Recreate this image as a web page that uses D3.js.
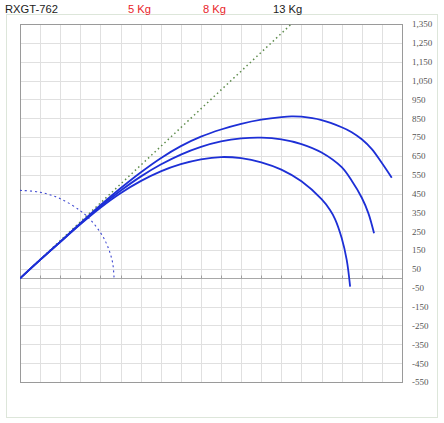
<!DOCTYPE html>
<html><head><meta charset="utf-8">
<script src="https://cdn.jsdelivr.net/npm/d3@7/dist/d3.min.js"></script>
<style>body{margin:0;background:#fff}svg{display:block}</style>
</head><body>
<svg id="c" width="444" height="423"></svg>
<script>
const title = "RXGT-762";
const seriesLabels = ["5 Kg", "8 Kg", "13 Kg"];
const seriesLabelColors = ["#e8262a", "#e8262a", "#222222"];
const yTickValues = [1350,1250,1150,1050,950,850,750,650,550,450,350,250,150,50,-50,-150,-250,-350,-450,-550];
const xGridValues = d3.range(0, 20);

// trajectories [x units, height]
const curveHigh = [[0,0],[1,98],[2,194],[3,292],[4,388],[5,478],[6,562],[7,638],[8,702],[9,752],[10,790],[11,820],[12,842],[13,856],[13.5,860],[14,858],[15,840],[16,802],[16.5,776],[17,738],[17.5,686],[18,612],[18.49,534]];
const curveMid = [[0,0],[1,98],[2,194],[3,290],[4,382],[5,465],[6,540],[7,604],[8,657],[9,698],[10,727],[11,743],[12,747],[13,738],[14,713],[15,668],[16,590],[16.5,518],[17,428],[17.33,345],[17.61,239]];
const curveLow = [[0,0],[1,98],[2,193],[3,287],[4,375],[5,452],[6,516],[7,568],[8,606],[9,632],[10,644],[11,638],[12,616],[13,577],[14,515],[15,420],[15.42,363],[15.67,315],[16,214],[16.25,98],[16.42,-44]];
const straightLine = [[0,0],[13.5,1350],[14,1400]];
const ringArc = [[0,467],[1,457],[2,423],[3,359],[3.5,311],[4,243],[4.3,185],[4.5,128],[4.62,75],[4.68,0]];

const svg = d3.select("#c");
const x = d3.scaleLinear([0,19],[20,402]);
const y = d3.scaleLinear([-550,1350],[382,24]);

// outer frame
svg.append("rect").attr("x",6.5).attr("y",14.5).attr("width",431).attr("height",403)
  .attr("fill","none").attr("stroke","#dde6da").attr("stroke-width",1);

// title & labels
const tf = "'Liberation Sans', Arial, sans-serif";
svg.append("text").attr("x",5).attr("y",13).attr("font-family",tf).attr("font-size",11.2).attr("fill","#222").text(title);
const labelX = [128, 203, 273];
seriesLabels.forEach((s,i)=>{
  svg.append("text").attr("x",labelX[i]).attr("y",13).attr("font-family",tf).attr("font-size",11.2)
    .attr("fill",seriesLabelColors[i]).text(s);
});

// grid
const g = svg.append("g");
g.selectAll(".vg").data(xGridValues).join("line")
  .attr("x1",d=>Math.round(x(d))+0.5).attr("x2",d=>Math.round(x(d))+0.5)
  .attr("y1",y(1350)).attr("y2",y(-550)).attr("stroke","#e0e0e0").attr("stroke-width",1);
g.selectAll(".hg").data(yTickValues).join("line")
  .attr("x1",x(0)).attr("x2",x(19))
  .attr("y1",d=>Math.round(y(d))+0.5).attr("y2",d=>Math.round(y(d))+0.5)
  .attr("stroke","#e0e0e0").attr("stroke-width",1);

// zero axis with ticks
const y0 = Math.round(y(0))+0.5;
g.append("line").attr("x1",x(0)).attr("x2",x(19)).attr("y1",y0).attr("y2",y0).attr("stroke","#a8a8a8");
g.selectAll(".zt").data(xGridValues).join("line")
  .attr("x1",d=>Math.round(x(d))+0.5).attr("x2",d=>Math.round(x(d))+0.5)
  .attr("y1",y0-3).attr("y2",y0).attr("stroke","#a0a0a0");

// plot border
svg.append("rect").attr("x",x(0)+0.5).attr("y",y(1350)+0.5).attr("width",x(19)-x(0)).attr("height",y(-550)-y(1350))
  .attr("fill","none").attr("stroke","#9a9a9a").attr("stroke-width",1);

// right axis
const fmt = d3.format(",");
const ax = svg.append("g").attr("transform",`translate(${x(19)+7},0)`)
  .call(d3.axisRight(y).tickValues(yTickValues).tickSize(0).tickFormat(d=>fmt(d).replace("\u2212","-")));
ax.select(".domain").remove();
ax.selectAll("text").attr("font-family","'Liberation Serif','Times New Roman',serif").attr("font-size",9).attr("fill","#555");

// clip
svg.append("clipPath").attr("id","clip").append("rect")
  .attr("x",x(0)).attr("y",y(1350)).attr("width",x(19)-x(0)).attr("height",y(-550)-y(1350));
const plot = svg.append("g").attr("clip-path","url(#clip)");

const line = d3.line().x(d=>x(d[0])).y(d=>y(d[1]));
const smooth = d3.line().x(d=>x(d[0])).y(d=>y(d[1])).curve(d3.curveCatmullRom);

plot.append("path").datum(straightLine).attr("d",line).attr("fill","none")
  .attr("stroke","#5e8c4c").attr("stroke-width",1.5).attr("stroke-dasharray","1.5,3");
plot.append("path").datum(ringArc).attr("d",smooth).attr("fill","none")
  .attr("stroke","#3b45d0").attr("stroke-width",1.1).attr("stroke-dasharray","2,3");

[curveLow, curveMid, curveHigh].forEach(c=>{
  plot.append("path").datum(c).attr("d",smooth).attr("fill","none")
    .attr("stroke","#1d2fd6").attr("stroke-width",1.8).attr("stroke-linecap","butt");
});
</script>
</body></html>
